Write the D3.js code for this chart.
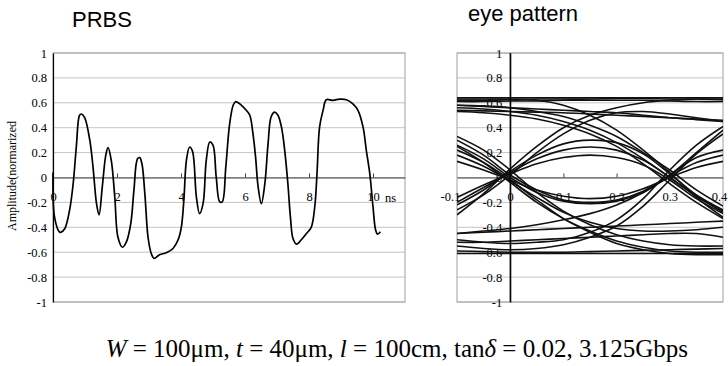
<!DOCTYPE html>
<html>
<head>
<meta charset="utf-8">
<script src="https://cdn.jsdelivr.net/npm/d3@7"></script>
<style>
  body { margin: 0; background: #fff; }
  svg { display: block; }
</style>
</head>
<body>
<svg id="chart" width="728" height="366"></svg>
<script>
// PRBS waveform (time in ns, normalized amplitude)
const prbsT = [0, 0.05, 0.21, 0.25, 0.37, 0.52, 0.63, 0.73, 0.83, 0.89, 0.99, 1.15, 1.25, 1.36, 1.44,
  1.54, 1.65, 1.72, 1.82, 1.93, 2.03, 2.17, 2.29, 2.43, 2.53, 2.64, 2.71, 2.78, 2.87, 2.97, 3.07, 3.16,
  3.33, 3.54, 3.75, 3.91, 4.01, 4.09, 4.17, 4.27, 4.36, 4.48, 4.58, 4.69, 4.79, 4.90, 5.0, 5.1, 5.21,
  5.29, 5.40, 5.52, 5.63, 5.71, 5.89, 6.04, 6.15, 6.25, 6.33, 6.41, 6.51, 6.62, 6.72, 6.82, 6.93, 7.03,
  7.14, 7.24, 7.34, 7.42, 7.5, 7.61, 7.76, 7.92, 8.07, 8.18, 8.25, 8.33, 8.44, 8.54, 8.75, 8.96, 9.17,
  9.38, 9.53, 9.69, 9.79, 9.90, 10.0, 10.08, 10.14, 10.23];
const prbsY = [0.04, -0.32, -0.44, -0.44, -0.41, -0.26, -0.05, 0.25, 0.5, 0.51, 0.48, 0.3, 0.085, -0.21, -0.3,
  -0.075, 0.18, 0.24, 0.14, -0.155, -0.48, -0.56, -0.52, -0.37, -0.1, 0.15, 0.16, 0.11, -0.13, -0.48, -0.61, -0.65,
  -0.62, -0.605, -0.57, -0.5, -0.4, -0.18, 0.14, 0.245, 0.21, -0.155, -0.29, -0.21, 0.14, 0.285, 0.26, 0.005, -0.195,
  -0.195, 0.085, 0.43, 0.58, 0.61, 0.58, 0.54, 0.5, 0.35, 0.165, -0.075, -0.21, -0.05, 0.27, 0.49, 0.525, 0.5,
  0.405, 0.22, -0.05, -0.32, -0.49, -0.535, -0.5, -0.45, -0.4, -0.235, 0.03, 0.405, 0.54, 0.625, 0.62, 0.63, 0.625,
  0.59, 0.54, 0.405, 0.22, 0.03, -0.235, -0.42, -0.455, -0.435];

// eye pattern traces, sampled at eyeT (ns)
const eyeT = [-0.1, -0.05, 0, 0.05, 0.1, 0.15, 0.2, 0.25, 0.3, 0.35, 0.4];
const eyeHigh = [
  [0.64, 0.64, 0.64, 0.64, 0.64, 0.64, 0.64, 0.64, 0.64, 0.64, 0.64],
  [0.62, 0.62, 0.625, 0.63, 0.63, 0.63, 0.635, 0.635, 0.63, 0.63, 0.625],
  [0.61, 0.61, 0.615, 0.615, 0.62, 0.62, 0.62, 0.62, 0.615, 0.61, 0.61],
  [0.54, 0.535, 0.53, 0.525, 0.52, 0.51, 0.50, 0.49, 0.48, 0.47, 0.46],
  [0.58, 0.57, 0.56, 0.55, 0.54, 0.53, 0.52, 0.50, 0.48, 0.465, 0.45]
];
const eyeFalling = [
  [0.58, 0.575, 0.56, 0.53, 0.49, 0.42, 0.33, 0.20, 0.06, -0.10, -0.23],
  [0.56, 0.55, 0.53, 0.50, 0.45, 0.38, 0.28, 0.15, 0.0, -0.15, -0.28],
  [0.53, 0.52, 0.50, 0.47, 0.42, 0.35, 0.25, 0.11, -0.05, -0.20, -0.33],
  [0.63, 0.63, 0.63, 0.62, 0.58, 0.50, 0.38, 0.22, 0.04, -0.16, -0.32],
  [0.33, 0.22, 0.06, -0.12, -0.27, -0.38, -0.46, -0.51, -0.54, -0.55, -0.55],
  [0.25, 0.12, -0.04, -0.20, -0.33, -0.43, -0.51, -0.56, -0.59, -0.60, -0.60],
  [0.22, 0.12, -0.02, -0.18, -0.33, -0.44, -0.53, -0.58, -0.61, -0.62, -0.62],
  [0.18, 0.09, -0.03, -0.16, -0.28, -0.36, -0.41, -0.43, -0.43, -0.42, -0.40]
];
const eyeRising = [
  [-0.30, -0.13, 0.07, 0.25, 0.40, 0.50, 0.56, 0.60, 0.62, 0.63, 0.63],
  [-0.26, -0.14, 0.02, 0.20, 0.35, 0.46, 0.52, 0.53, 0.51, 0.48, 0.45],
  [-0.45, -0.43, -0.41, -0.38, -0.34, -0.29, -0.22, -0.12, 0.02, 0.20, 0.38],
  [-0.50, -0.52, -0.53, -0.52, -0.50, -0.44, -0.34, -0.17, 0.06, 0.26, 0.41],
  [-0.55, -0.57, -0.58, -0.57, -0.54, -0.48, -0.39, -0.23, -0.02, 0.19, 0.35]
];
const eyeBumps = [
  [-0.22, -0.10, 0.05, 0.18, 0.27, 0.30, 0.28, 0.19, 0.03, -0.14, -0.26],
  [-0.20, -0.08, 0.04, 0.15, 0.22, 0.245, 0.22, 0.14, 0.0, -0.15, -0.27],
  [-0.16, -0.06, 0.03, 0.11, 0.16, 0.18, 0.16, 0.10, -0.02, -0.17, -0.29]
];
const eyeDips = [
  [0.30, 0.18, 0.02, -0.10, -0.18, -0.20, -0.18, -0.11, 0.02, 0.16, 0.22],
  [0.26, 0.15, 0.0, -0.12, -0.19, -0.21, -0.19, -0.12, 0.01, 0.12, 0.18],
  [0.13, 0.06, -0.02, -0.10, -0.15, -0.17, -0.15, -0.09, 0.0, 0.08, 0.13]
];
const eyeLow = [
  [-0.61, -0.61, -0.61, -0.61, -0.61, -0.61, -0.61, -0.61, -0.61, -0.61, -0.61],
  [-0.59, -0.595, -0.60, -0.60, -0.60, -0.595, -0.59, -0.585, -0.58, -0.575, -0.57],
  [-0.52, -0.52, -0.51, -0.50, -0.49, -0.48, -0.47, -0.46, -0.45, -0.45, -0.48],
  [-0.45, -0.44, -0.43, -0.42, -0.41, -0.40, -0.39, -0.38, -0.37, -0.36, -0.35]
];

const yTicks = [1, 0.8, 0.6, 0.4, 0.2, 0, -0.2, -0.4, -0.6, -0.8, -1];
const prbsLabels = [0, 2, 4, 6, 8, 10];
const eyeLabels = [-0.1, 0, 0.1, 0.2, 0.3, 0.4];

const svg = d3.select("#chart");
const serif = "'Liberation Serif', 'Times New Roman', serif";
const sans = "'Liberation Sans', Arial, sans-serif";
const fmt = (d) => String(+d.toFixed(1));

const plotTop = 53, plotBottom = 302;
const y = d3.scaleLinear().domain([-1, 1]).range([plotBottom, plotTop]);

function drawPanel(x, xTickMarks, labels, yPad) {
  const g = svg.append("g");
  const [x0, x1] = x.range();
  // grid
  g.selectAll("line.grid")
    .data(yTicks)
    .join("line")
    .attr("class", "grid")
    .attr("x1", x0).attr("x2", x1)
    .attr("y1", (d) => y(d)).attr("y2", (d) => y(d))
    .attr("stroke", "#c4c4c4")
    .attr("stroke-width", 1);
  // frame
  g.append("rect")
    .attr("x", x0).attr("y", plotTop)
    .attr("width", x1 - x0).attr("height", plotBottom - plotTop)
    .attr("fill", "none")
    .attr("stroke", "#a0a0a0");
  // zero line with upward ticks
  g.append("g")
    .attr("transform", `translate(0, ${y(0)})`)
    .call(d3.axisTop(x).tickValues(xTickMarks).tickSize(4).tickFormat("").tickSizeOuter(0))
    .call((s) => s.selectAll("path, line").attr("stroke", "#404040"));
  // x labels below the zero line
  const xl = g.append("g")
    .attr("class", "xlabels")
    .attr("transform", `translate(0, ${y(0)})`)
    .call(d3.axisBottom(x).tickValues(labels).tickSize(0).tickPadding(15).tickFormat(fmt));
  xl.select(".domain").remove();
  xl.selectAll("text")
    .attr("fill", "#000")
    .style("font-family", serif)
    .style("font-size", "12.5px");
  // y axis
  g.append("g")
    .attr("transform", `translate(${x(0)}, 0)`)
    .call(d3.axisLeft(y).tickValues(yTicks).tickSize(0).tickPadding(yPad).tickFormat(fmt))
    .call((s) => s.select(".domain").attr("stroke", "#000").attr("stroke-width", 1.2))
    .selectAll("text")
    .attr("fill", "#000")
    .style("font-family", serif)
    .style("font-size", "12.5px");
  return g;
}

// left panel: PRBS
const x = d3.scaleLinear().domain([0, 11]).range([53, 405]);
const left = drawPanel(x, [2, 4, 6, 8, 10], prbsLabels, 6);

const line = d3.line().curve(d3.curveCatmullRom.alpha(0.5));
left.append("path")
  .attr("d", line(prbsT.map((t, i) => [x(t), y(prbsY[i])])))
  .attr("fill", "none")
  .attr("stroke", "#000")
  .attr("stroke-width", 1.7);

left.append("text")
  .attr("x", 385).attr("y", y(0) + 24)
  .style("font-family", serif).style("font-size", "12.5px")
  .text("ns");

svg.append("text")
  .attr("transform", `translate(16, 176) rotate(-90)`)
  .attr("text-anchor", "middle")
  .style("font-family", serif).style("font-size", "12px")
  .text("Amplitude(normarized");

svg.append("text")
  .attr("x", 72).attr("y", 27)
  .style("font-family", sans).style("font-size", "22px")
  .text("PRBS");

// right panel: eye pattern
const x2 = d3.scaleLinear().domain([-0.1, 0.4]).range([457, 723]);
const right = drawPanel(x2, [0.1, 0.2, 0.3], eyeLabels, 8);
right.selectAll(".xlabels text")
  .attr("dx", (d) => (d === -0.1 ? -7 : d === 0.4 ? -4 : 0));

svg.append("clipPath").attr("id", "eye-clip")
  .append("rect")
  .attr("x", 457).attr("y", plotTop)
  .attr("width", 266).attr("height", plotBottom - plotTop);

const traces = [...eyeHigh, ...eyeFalling, ...eyeRising, ...eyeBumps, ...eyeDips, ...eyeLow];
right.append("g")
  .attr("clip-path", "url(#eye-clip)")
  .selectAll("path")
  .data(traces)
  .join("path")
  .attr("d", (vals) => line(eyeT.map((t, i) => [x2(t), y(vals[i])])))
  .attr("fill", "none")
  .attr("stroke", "#111")
  .attr("stroke-width", 1.6);

// redraw the y axis line on top of traces
right.append("line")
  .attr("x1", x2(0)).attr("x2", x2(0))
  .attr("y1", plotTop).attr("y2", plotBottom)
  .attr("stroke", "#000").attr("stroke-width", 1.2);

svg.append("text")
  .attr("x", 468).attr("y", 21)
  .style("font-family", sans).style("font-size", "22px")
  .text("eye pattern");

// caption
const cap = svg.append("text")
  .attr("x", 688).attr("y", 357)
  .attr("text-anchor", "end")
  .style("font-family", serif).style("font-size", "25px");
const parts = [
  ["W", true], [" = 100μm, ", false], ["t", true], [" = 40μm, ", false], ["l", true],
  [" = 100cm, tan", false], ["δ", true], [" = 0.02, 3.125Gbps", false]
];
parts.forEach(([s, it]) => {
  cap.append("tspan").style("font-style", it ? "italic" : "normal").text(s);
});
</script>
</body>
</html>
